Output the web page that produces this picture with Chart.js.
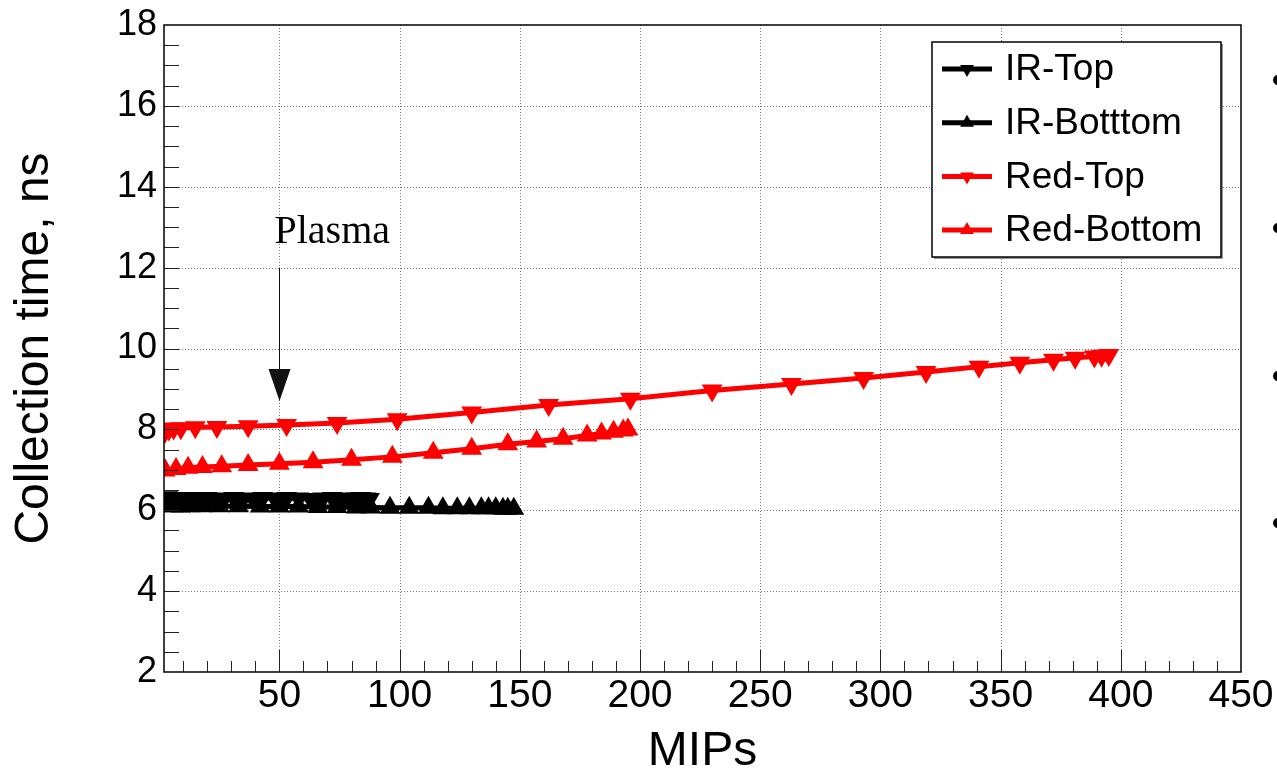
<!DOCTYPE html>
<html><head><meta charset="utf-8">
<script src="https://cdn.jsdelivr.net/npm/chart.js@4/dist/chart.umd.min.js"></script>
<style>html,body{margin:0;padding:0;background:#fff;overflow:hidden}#wrap{width:1277px;height:776px}</style>
</head><body><div id="wrap"><canvas id="c" width="1277" height="776"></canvas></div>
<script>
// ---- data ----
const irTopX = [2.5, 3.5, 5, 6.5, 8, 10, 12, 14, 17, 20, 23, 27, 31, 35, 39, 43, 48, 53, 58, 63, 68, 72, 76, 79, 82, 84, 86, 87.5];
const irTopY = [6.25, 6.32, 6.3, 6.28, 6.3, 6.29, 6.28, 6.3, 6.29, 6.3, 6.28, 6.29, 6.3, 6.29, 6.28, 6.3, 6.29, 6.3, 6.29, 6.28, 6.29, 6.3, 6.29, 6.28, 6.29, 6.3, 6.29, 6.28];
const irBotX = [2.5, 4, 6, 9, 13, 18, 25, 33, 42, 50, 58, 66, 74, 82, 88, 96, 104, 112, 118, 124, 129, 134, 137, 140, 143, 145, 147.5];
const irBotY = [6.12, 6.1, 6.1, 6.09, 6.1, 6.1, 6.1, 6.1, 6.09, 6.09, 6.09, 6.08, 6.08, 6.07, 6.07, 6.06, 6.06, 6.06, 6.05, 6.05, 6.05, 6.05, 6.05, 6.05, 6.04, 6.04, 6.04];
const redTopX = [2.5, 4, 6, 9, 15, 24, 37, 53, 74, 99, 130, 162, 196, 230, 263, 293, 319, 341, 358, 372, 381, 389, 392, 395];
const redTopY = [7.95, 8.0, 8.02, 8.03, 8.05, 8.06, 8.08, 8.11, 8.16, 8.25, 8.42, 8.6, 8.76, 8.96, 9.12, 9.27, 9.42, 9.55, 9.65, 9.72, 9.77, 9.8, 9.82, 9.84];
const redBotX = [2.5, 7, 12, 18, 26, 37, 50, 64, 80, 97, 114, 130, 145, 157, 168, 178, 184, 189, 193, 195];
const redBotY = [6.98, 7.02, 7.05, 7.07, 7.09, 7.12, 7.15, 7.19, 7.25, 7.32, 7.42, 7.52, 7.63, 7.7, 7.77, 7.85, 7.9, 7.94, 7.97, 8.0];
const seriesNames = ['IR-Top', 'IR-Botttom', 'Red-Top', 'Red-Bottom'];
const xTickLabels = [50, 100, 150, 200, 250, 300, 350, 400, 450];
const yTickLabels = [2, 4, 6, 8, 10, 12, 14, 16, 18];
const xRange = [2, 450];
const yRange = [2, 18];
const annotationText = 'Plasma';
const annotationX = 50, annotationTop = 12, annotationTip = 8.7;

const FONT = "'Liberation Sans', Arial, Helvetica, sans-serif";
const pts = (xs, ys) => xs.map((x, i) => ({x, y: ys[i]}));
function ds(label, xs, ys, color, down) {
  return {label, data: pts(xs, ys), borderColor: color, backgroundColor: color,
    borderWidth: 5, pointStyle: 'triangle', pointRotation: down ? 180 : 0,
    pointRadius: 12, pointHoverRadius: 12, pointBorderWidth: 0, tension: 0, fill: false};
}

const framePlugin = {
  id: 'frame',
  beforeDatasetsDraw(chart) {
    const {ctx, chartArea: a, scales: {x, y}} = chart;
    ctx.save();
    ctx.strokeStyle = '#777'; ctx.lineWidth = 1; ctx.setLineDash([1, 2]);
    xTickLabels.forEach(v => { const px = Math.round(x.getPixelForValue(v)) + 0.5;
      if (px > a.left + 2 && px < a.right - 2) { ctx.beginPath(); ctx.moveTo(px, a.top); ctx.lineTo(px, a.bottom); ctx.stroke(); } });
    yTickLabels.forEach(v => { const py = Math.round(y.getPixelForValue(v)) + 0.5;
      if (py > a.top + 2 && py < a.bottom - 2) { ctx.beginPath(); ctx.moveTo(a.left, py); ctx.lineTo(a.right, py); ctx.stroke(); } });
    ctx.restore();
  },
  afterDatasetsDraw(chart) {
    const {ctx, chartArea: a, scales: {x, y}} = chart;
    ctx.save();
    // ticks (inward)
    ctx.strokeStyle = '#222'; ctx.lineWidth = 1;
    for (let v = 10; v < xRange[1]; v += 10) {
      if (v < xRange[0]) continue;
      const px = Math.round(x.getPixelForValue(v)) + 0.5;
      const len = (v % 50 === 0) ? 22 : 11;
      ctx.beginPath(); ctx.moveTo(px, a.bottom); ctx.lineTo(px, a.bottom - len); ctx.stroke();
    }
    for (let v = yRange[0] + 0.5; v < yRange[1]; v += 0.5) {
      const py = Math.round(y.getPixelForValue(v)) + 0.5;
      ctx.beginPath(); ctx.moveTo(a.left, py); ctx.lineTo(a.left + 15, py); ctx.stroke();
    }
    // frame
    ctx.strokeStyle = '#000'; ctx.lineWidth = 1.5;
    ctx.strokeRect(a.left, a.top, a.right - a.left, a.bottom - a.top);
    // annotation
    const ax = Math.round(x.getPixelForValue(annotationX)) + 0.5;
    const ay0 = y.getPixelForValue(annotationTop), ay1 = y.getPixelForValue(annotationTip);
    ctx.strokeStyle = '#111'; ctx.lineWidth = 1;
    ctx.beginPath(); ctx.moveTo(ax, ay0); ctx.lineTo(ax, ay1 - 30); ctx.stroke();
    ctx.fillStyle = '#111';
    ctx.beginPath(); ctx.moveTo(ax - 11, ay1 - 32); ctx.lineTo(ax + 11, ay1 - 32); ctx.lineTo(ax, ay1); ctx.closePath(); ctx.fill();
    ctx.fillStyle = '#000'; ctx.font = "40px 'Liberation Serif', 'Times New Roman', serif";
    ctx.textAlign = 'left'; ctx.textBaseline = 'alphabetic';
    ctx.fillText(annotationText, ax - 5, ay0 - 25);
    // legend
    const lx = a.right - 309, ly = a.top + 17, lw = 289, lh = 215;
    ctx.fillStyle = '#999'; ctx.fillRect(lx + 2, ly + 2, lw, lh);
    ctx.fillStyle = '#fff'; ctx.fillRect(lx, ly, lw, lh);
    ctx.strokeStyle = '#000'; ctx.lineWidth = 1.5; ctx.strokeRect(lx, ly, lw, lh);
    chart.data.datasets.forEach((d, i) => {
      const cy = ly + 27 + i * 53.7;
      ctx.strokeStyle = d.borderColor; ctx.lineWidth = 5;
      ctx.beginPath(); ctx.moveTo(lx + 10, cy); ctx.lineTo(lx + 60, cy); ctx.stroke();
      ctx.fillStyle = d.borderColor;
      const r = 8, cx = lx + 35, s = d.pointRotation === 180 ? -1 : 1;
      ctx.beginPath(); ctx.moveTo(cx, cy - s * r); ctx.lineTo(cx + r * 0.866, cy + s * r / 2); ctx.lineTo(cx - r * 0.866, cy + s * r / 2); ctx.closePath(); ctx.fill();
      ctx.fillStyle = '#000'; ctx.font = '37px ' + FONT; ctx.textBaseline = 'middle';
      ctx.fillText(d.label, lx + 73, cy + 1);
    });
    // cut-off marks at right edge (from the neighbouring figure)
    ctx.fillStyle = '#000';
    [80, 228, 376, 523].forEach(py => { ctx.beginPath(); ctx.arc(chart.width + 1, py, 5, 0, Math.PI * 2); ctx.fill(); });
    ctx.restore();
  }
};

new Chart(document.getElementById('c'), {
  type: 'line',
  data: {datasets: [
    ds(seriesNames[0], irTopX, irTopY, '#000', true),
    ds(seriesNames[1], irBotX, irBotY, '#000', false),
    ds(seriesNames[2], redTopX, redTopY, '#ff0000', true),
    ds(seriesNames[3], redBotX, redBotY, '#ff0000', false)
  ]},
  options: {
    responsive: false, animation: false, devicePixelRatio: 1,
    layout: {padding: {left: 0, right: 36, top: 22, bottom: 0}},
    plugins: {legend: {display: false}, tooltip: {enabled: false}},
    scales: {
      x: {type: 'linear', position: 'bottom', min: xRange[0], max: xRange[1],
        afterBuildTicks: s => { s.ticks = xTickLabels.map(v => ({value: v})); },
        afterFit: s => { s.height = 104; },
        grid: {display: false, drawTicks: false}, border: {display: false},
        ticks: {color: '#000', font: {family: FONT, size: 39, lineHeight: 1.2}, padding: 1, maxRotation: 0, autoSkip: false},
        title: {display: true, text: 'MIPs', color: '#000', font: {family: FONT, size: 48, lineHeight: 1}, padding: {top: 0, bottom: 0}}
      },
      y: {type: 'linear', min: yRange[0], max: yRange[1],
        afterBuildTicks: s => { s.ticks = yTickLabels.map(v => ({value: v})); },
        afterFit: s => { s.width = 164; },
        grid: {display: false, drawTicks: false}, border: {display: false},
        ticks: {color: '#000', font: {family: FONT, size: 36, lineHeight: 1}, padding: 7, autoSkip: false},
        title: {display: true, text: 'Collection time, ns', color: '#000', font: {family: FONT, size: 48, lineHeight: 1}, padding: {top: 11, bottom: 0}}
      }
    }
  },
  plugins: [framePlugin]
});
</script></body></html>
